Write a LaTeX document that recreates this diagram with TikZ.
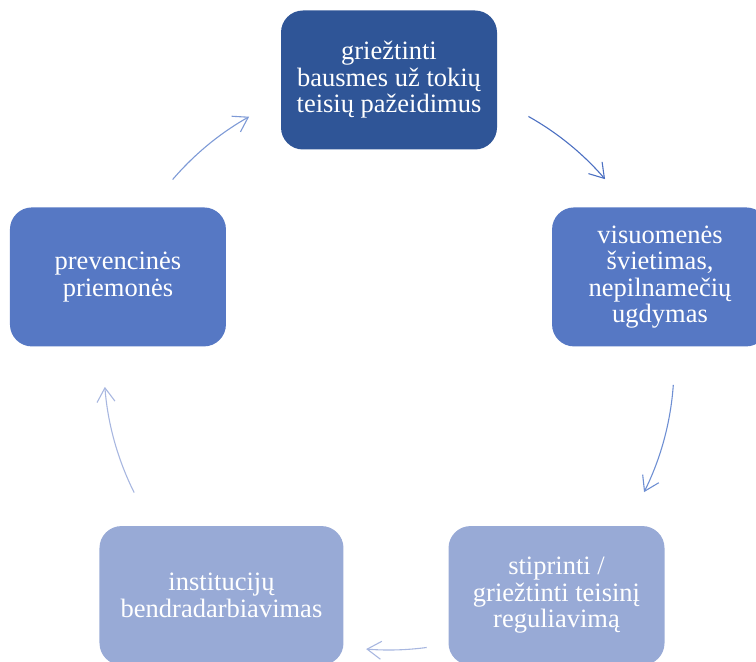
\documentclass[tikz,border=0pt]{standalone}
\usepackage{fontspec}
\setmainfont{Liberation Serif}
\usetikzlibrary{arrows.meta}
\definecolor{darkbox}{RGB}{47,85,151}
\definecolor{midbox}{RGB}{86,120,196}
\definecolor{lightbox}{RGB}{152,170,214}
\definecolor{arrowA}{RGB}{126,154,214}
\definecolor{arrowB}{RGB}{76,112,194}
\definecolor{arrowC}{RGB}{110,143,211}
\definecolor{arrowD}{RGB}{168,183,224}
\begin{document}
\begin{tikzpicture}[x=1pt,y=1pt,
  stage/.style={fill,rounded corners=22pt,minimum width=216pt,minimum height=139pt,
    align=center,text=white,font=\fontsize{26.5}{26.5}\selectfont},
  cyc/.style={line width=1.1pt,-{Straight Barb[length=14pt,width=18pt]}}]
\useasboundingbox (0,0) rectangle (756,662);
\clip (0,0) rectangle (756,662);
\coordinate (c) at (389,297);

\node[stage,fill=darkbox]  (top)   at ([shift={(90:285)}]c)   {griežtinti\\bausmes už tokių\\teisių pažeidimus};
\node[stage,fill=midbox]   (right) at ([shift={(18:285)}]c)   {visuomenės\\švietimas,\\nepilnamečių\\ugdymas};
\node[stage,fill=lightbox] (lowr)  at ([shift={(-54:285)}]c)  {stiprinti /\\griežtinti teisinį\\reguliavimą};
\node[stage,fill=lightbox,minimum width=244pt] (lowl) at ([shift={(-126:285)}]c) {institucijų\\bendradarbiavimas};
\node[stage,fill=midbox]   (left)  at ([shift={(162:285)}]c)  {prevencinės\\priemonės};

\draw[cyc,draw=arrowA] ([shift={(139.4:285)}]c) arc[start angle=139.4,end angle=119.4,radius=285];
\draw[cyc,draw=arrowB] ([shift={(60.7:285)}]c) arc[start angle=60.7,end angle=40.7,radius=285];
\draw[cyc,draw=arrowC] ([shift={(-4:285)}]c) arc[start angle=-4,end angle=-26.5,radius=285];
\draw[cyc,draw=arrowD] ([shift={(-82.4:285)}]c) arc[start angle=-82.4,end angle=-94.6,radius=285];
\draw[cyc,draw=arrowD] ([shift={(206.6:285)}]c) arc[start angle=206.6,end angle=184.4,radius=285];
\end{tikzpicture}
\end{document}
